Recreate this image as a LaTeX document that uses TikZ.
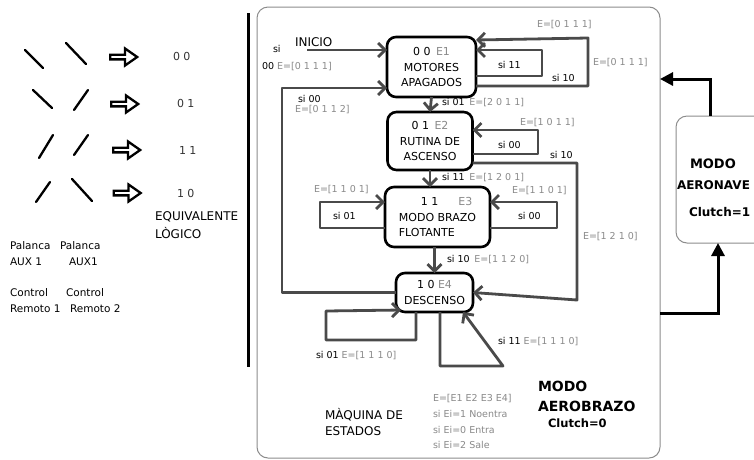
\documentclass[tikz,border=0pt]{standalone}
\usepackage{fontspec}
\setmainfont{DejaVu Sans}
\usetikzlibrary{arrows.meta,shapes.arrows,calc}
\definecolor{lc}{HTML}{4A4A4A}
\definecolor{lbl}{HTML}{8A8A8A}
\definecolor{framec}{HTML}{8C8C8C}
\begin{document}
\begin{tikzpicture}[x=1pt,y=-1pt,
  every node/.style={inner sep=0pt, outer sep=0pt},
  lever/.style={line width=2.3pt, line cap=round},
  harrow/.style={single arrow, draw, line width=2.3pt, fill=white, minimum height=27pt, minimum width=17pt, single arrow head extend=3pt, single arrow tip angle=70},
  ltext/.style={anchor=west, font=\fontsize{10.5}{13}\selectfont},
  code/.style={anchor=west, font=\fontsize{11}{13}\selectfont, text=black!80},
  state/.style={draw=black, line width=2.6pt, rounded corners=9pt, fill=white, align=center, font=\fontsize{11}{15.5}\selectfont},
  lab/.style={anchor=west, font=\fontsize{9.5}{11}\selectfont},
  glab/.style={lab, text=lbl},
  conn/.style={draw=lc, line width=2.8pt, line join=round, -{Straight Barb[length=7pt,width=14pt]}},
  bigarrow/.style={draw=black, line width=3pt, -{Triangle[length=13pt,width=13pt]}},
  boldt/.style={anchor=west, font=\bfseries\fontsize{13}{15}\selectfont},
  boxframe/.style={draw=framec, line width=1pt, rounded corners=11pt}
]
\fill[white] (0,0) rectangle (754,459);
\useasboundingbox (0,0) rectangle (754,459);

% ---------- left part ----------
\draw[lever] (25,50) -- (43,68);
\draw[lever] (66,43) -- (86,64);
\draw[lever] (33,90) -- (52,108);
\draw[lever] (74,110) -- (88,90);
\draw[lever] (39,158) -- (53,135);
\draw[lever] (74,155) -- (88,135);
\draw[lever] (36,202) -- (50,182);
\draw[lever] (72,179) -- (92,201);

\node[harrow] (a1) at (122,57) {};
\node[harrow] (a2) at (123,104) {};
\node[harrow] (a3) at (125,150) {};
\node[harrow] (a4) at (125.5,193) {};

\node[code] (c1) at (173,56) {0 0};
\node[code] (c2) at (177,103) {0 1};
\node[code] (c3) at (179,150) {1 1};
\node[code] (c4) at (177,193) {1 0};

\node[ltext, font=\fontsize{12}{14}\selectfont] (eq1) at (155,217) {EQUIVALENTE};
\node[ltext, font=\fontsize{12}{14}\selectfont] (eq2) at (155,233) {LÒGICO};

\node[ltext] (p1) at (10,246) {Palanca};
\node[ltext] (p2) at (60,246) {Palanca};
\node[ltext] (p3) at (10,262) {AUX 1};
\node[ltext] (p4) at (69,262) {AUX1};
\node[ltext] (p5) at (10,293) {Control};
\node[ltext] (p6) at (66,293) {Control};
\node[ltext] (p7) at (10,309) {Remoto 1};
\node[ltext] (p8) at (70,309) {Remoto 2};

\draw[line width=3pt] (248,13) -- (248,367);

% ---------- containers ----------
\node[boxframe, minimum width=403pt, minimum height=451pt] (cont) at (458.5,232.5) {};
\node[boxframe, minimum width=90pt, minimum height=127pt] (aer) at (721,179.5) {};

\node[boldt] (m1) at (690,164) {MODO};
\node[boldt, font=\bfseries\fontsize{12}{14}\selectfont] (m2) at (677,185) {AERONAVE};
\node[boldt, font=\bfseries\fontsize{12}{14}\selectfont] (m3) at (689,212) {Clutch=1};

\node[boldt, font=\bfseries\fontsize{14}{16}\selectfont] (b1) at (538,386) {MODO};
\node[boldt, font=\bfseries\fontsize{14}{16}\selectfont] (b2) at (538,406) {AEROBRAZO};
\node[boldt, font=\bfseries\fontsize{11.5}{14}\selectfont] (b3) at (548,423) {Clutch=0};

\coordinate (up1) at (710,79);
\draw[bigarrow] (aer.north -| up1) -- (up1) -- (cont.east |- up1);
\coordinate (dn1) at (718,313);
\draw[bigarrow] (cont.east |- dn1) -- (dn1) -- (aer.south -| dn1);

% ---------- states ----------
\node[state, minimum width=89pt, minimum height=60pt] (E1) at (431.5,67) {0 0\enspace\textcolor{lbl}{E1}\\MOTORES\\APAGADOS};
\node[state, minimum width=85pt, minimum height=58pt] (E2) at (430,141) {0 1\enspace\textcolor{lbl}{E2}\\RUTINA DE\\ASCENSO};
\node[state, minimum width=105pt, minimum height=60pt, align=left] (E3) at (437.5,217) {\hspace{22pt}1 1\hspace{20pt}\textcolor{lbl}{E3}\\MODO BRAZO\\FLOTANTE};
\node[state, minimum width=77pt, minimum height=39pt] (E4) at (434.5,292.5) {1 0 \textcolor{lbl}{E4}\\DESCENSO};

% main chain
\draw[conn] (E1.south) -- (E2.north);
\draw[conn] (E2.south) -- (E2.south |- E3.north);
\draw[conn] (E4.north |- E3.south) -- (E4.north);

% INICIO
\coordinate (ini) at (307,50);
\draw[conn] (ini) -- (E1.west |- ini);
\node[anchor=west, font=\fontsize{12}{14}\selectfont] (tini) at (295,42) {INICIO};
\node[lab] (tsi) at (273,49) {si};
\node[lab] (tsi2) at (262,67) {00 \textcolor{lbl}{E=[0 1 1 1]}};

% return E4 -> E1
\draw[conn] (E4.west) -- (282,292.5) -- (282,88) -- (E1.west |- 0,88);
\node[lab] (r1) at (298,99) {si 00};
\node[glab] (r2) at (295,110) {E=[0 1 1 2]};

% E1 loops
\draw[conn] (E1.east |- 0,76) -- (542,76) -- (542,50) -- (E1.east |- 0,50);
\draw[conn] (E1.east |- 0,86) -- (588,86) -- (588,38) -- (E1.east |- 0,40);
\node[lab] (l11) at (498,65) {si 11};
\node[lab] (l12) at (552,78) {si 10};
\node[glab] (l13) at (537,25) {E=[0 1 1 1]};
\node[glab] (l14) at (593,63) {E=[0 1 1 1]};

\node[lab] (l21) at (442,103) {si 01\enspace\textcolor{lbl}{E=[2 0 1 1]}};
\node[lab] (l22) at (442,178) {si 11\enspace\textcolor{lbl}{E=[1 2 0 1]}};
\node[lab] (l23) at (447,260) {si 10\enspace\textcolor{lbl}{E=[1 1 2 0]}};

% E2 loops
\draw[conn] (E2.east |- 0,154) -- (538,154) -- (538,130) -- (E2.east |- 0,130);
\node[lab] (l31) at (498,145) {si 00};
\node[glab] (l32) at (520,123) {E=[1 0 1 1]};
\draw[conn] (E2.east |- 0,163) -- (577,163) -- (577,300) -- (E4.east);
\node[lab] (l33) at (550,155) {si 10};
\node[glab] (l34) at (583,237) {E=[1 2 1 0]};

% E3 loops
\draw[conn] (E3.west |- 0,228) -- (320,228) -- (320,202) -- (E3.west |- 0,202);
\node[lab] (l41) at (333,216) {si 01};
\node[glab] (l42) at (314,190) {E=[1 1 0 1]};
\draw[conn] (E3.east |- 0,228) -- (557,228) -- (557,202) -- (E3.east |- 0,202);
\node[lab] (l43) at (518,216) {si 00};
\node[glab] (l44) at (512,191) {E=[1 1 0 1]};

% E4 loops
\draw[conn] (E4.south -| 416,0) -- (416,340) -- (326,340) -- (326,311) -- ($(E4.south west)+(5,-2)$);
\node[lab] (l51) at (316,356) {si 01 \textcolor{lbl}{E=[1 1 1 0]}};
\draw[conn] (E4.south -| 440,0) -- (440,366) -- (503,366) -- (E4.south -| 463,0);
\node[lab] (l52) at (498,342) {si 11 \textcolor{lbl}{E=[1 1 1 0]}};

% bottom texts
\node[ltext, font=\fontsize{12}{14}\selectfont] (q1) at (325,415) {MÀQUINA DE};
\node[ltext, font=\fontsize{12}{14}\selectfont] (q2) at (325,431) {ESTADOS};
\node[glab] (g1) at (433,399) {E=[E1 E2 E3 E4]};
\node[glab] (g2) at (433,414) {si Ei=1 Noentra};
\node[glab] (g3) at (433,430) {si Ei=0 Entra};
\node[glab] (g4) at (433,445) {si Ei=2 Sale};
\end{tikzpicture}
\end{document}
